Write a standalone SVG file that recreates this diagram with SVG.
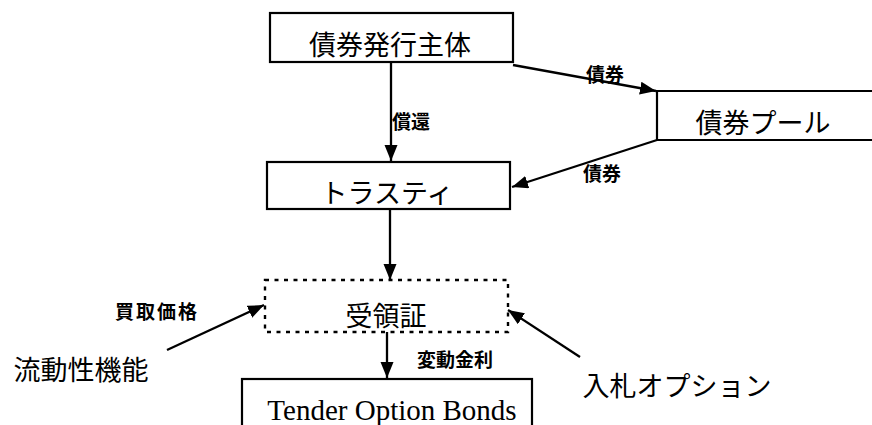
<svg xmlns="http://www.w3.org/2000/svg" width="872" height="425" viewBox="0 0 872 425">
<style>
.box{fill:#fff;stroke:#000;stroke-width:2.2}
.dash{fill:none;stroke:#000;stroke-width:2.4;stroke-dasharray:4 5.5}
.big{font-family:"Noto Sans CJK JP","Noto Sans CJK SC",sans-serif;font-size:27px;fill:#000;text-anchor:middle}
.lbl{font-family:"Noto Sans CJK JP","Noto Sans CJK SC",sans-serif;font-size:19px;font-weight:bold;fill:#000;text-anchor:middle}
.en{font-family:"Liberation Serif","Times New Roman",serif;font-size:29px;fill:#000;text-anchor:middle}
.edge{fill:none;stroke:#000;stroke-width:2.3;marker-end:url(#ah)}
</style>
<defs>
<marker id="ah" markerUnits="userSpaceOnUse" markerWidth="18" markerHeight="14" refX="16" refY="6.5" orient="auto">
<path d="M0,0 L16,6.5 L0,13 Z" fill="#000"/>
</marker>
</defs>
<rect width="872" height="425" fill="#fff"/>
<g id="edges">
<line class="edge" x1="513" y1="65" x2="656" y2="91"/>
<line class="edge" x1="657" y1="140" x2="512" y2="187"/>
<line class="edge" x1="391" y1="62" x2="391" y2="161"/>
<line class="edge" x1="390" y1="209" x2="390" y2="280"/>
<line class="edge" x1="387" y1="332" x2="387" y2="378"/>
<line class="edge" x1="167" y1="350" x2="264" y2="305"/>
<line class="edge" x1="580" y1="357" x2="508" y2="310"/>
<text class="lbl" x="605" y="82">債券</text>
<text class="lbl" x="602" y="181">債券</text>
<text class="lbl" x="411" y="129">償還</text>
<text class="lbl" x="455" y="367">変動金利</text>
<text class="lbl" x="157" y="319" style="letter-spacing:2px">買取価格</text>
</g>
<g id="issuer">
<rect class="box" x="270" y="13" width="243" height="49"/>
<text class="big" x="390" y="55">債券発行主体</text>
</g>
<g id="pool">
<path d="M880,91 L657,91 L657,140 L880,140" fill="#fff" stroke="#000" stroke-width="2.2"/>
<text class="big" x="763" y="133">債券プール</text>
</g>
<g id="trustee">
<rect class="box" x="267" y="162" width="243" height="47"/>
<text class="big" x="387" y="203">トラスティ</text>
</g>
<g id="receipt">
<rect class="dash" x="265" y="280" width="243" height="52"/>
<text class="big" x="386" y="326">受領証</text>
</g>
<g id="liquidity">
<text class="big" x="81" y="380">流動性機能</text>
</g>
<g id="tender-option">
<text class="big" x="677" y="396">入札オプション</text>
</g>
<g id="tob">
<rect class="box" x="242" y="379" width="290" height="60"/>
<text class="en" x="392" y="420">Tender Option Bonds</text>
</g>
</svg>
